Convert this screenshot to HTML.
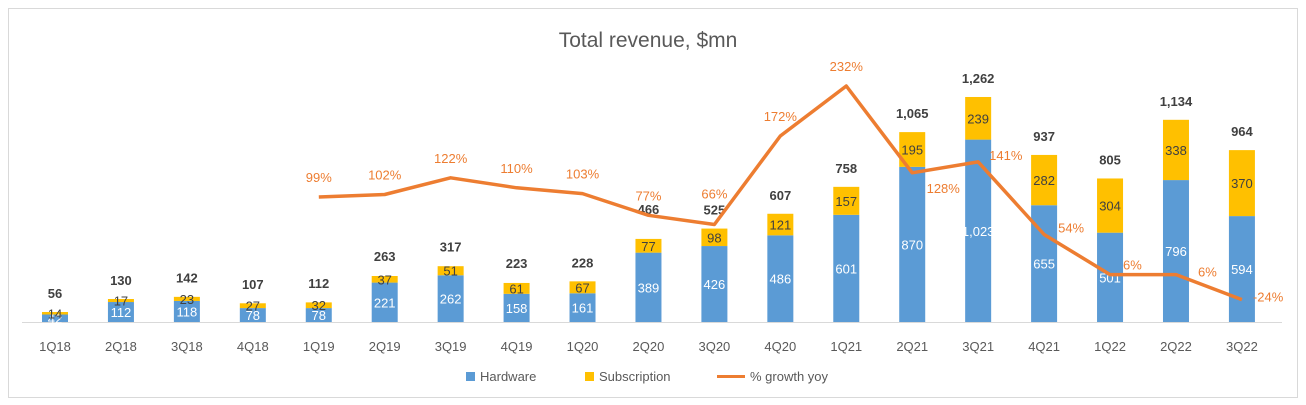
<!DOCTYPE html>
<html><head><meta charset="utf-8"><style>
body{margin:0;background:#fff;}
svg{font-family:"Liberation Sans",Arial,sans-serif;display:block}
</style></head><body>
<svg width="1306" height="405">
<rect x="8.5" y="8.5" width="1289" height="389" fill="#fff" stroke="#d9d9d9"/>
<text x="648" y="47" text-anchor="middle" font-size="21" fill="#595959">Total revenue, $mn</text>
<g id="plot"></g>
<g>
<rect x="466" y="372" width="9" height="9" fill="#5b9bd5"/>
<text x="480" y="381" font-size="13" fill="#595959">Hardware</text>
<rect x="585" y="372" width="9" height="9" fill="#ffc000"/>
<text x="599" y="381" font-size="13" fill="#595959">Subscription</text>
<line x1="717" y1="376.5" x2="745" y2="376.5" stroke="#ed7d31" stroke-width="3"/>
<text x="750" y="381" font-size="13" fill="#595959">% growth yoy</text>
</g>
</svg>
<script>
const categories=["1Q18","2Q18","3Q18","4Q18","1Q19","2Q19","3Q19","4Q19","1Q20","2Q20","3Q20","4Q20","1Q21","2Q21","3Q21","4Q21","1Q22","2Q22","3Q22"];
const hardware=[42,112,118,78,78,221,262,158,161,389,426,486,601,870,1023,655,501,796,594];
const subscription=[14,17,23,27,32,37,51,61,67,77,98,121,157,195,239,282,304,338,370];
const totals=[56,130,142,107,112,263,317,223,228,466,525,607,758,1065,1262,937,805,1134,964];
const growth=[null,null,null,null,99,102,122,110,103,77,66,172,232,128,141,54,6,6,-24];

const NS="http://www.w3.org/2000/svg";
const g=document.getElementById('plot');
const x0=55,step=65.94,base=322,k=0.1783,bw=26;
const xs=i=>x0+i*step;
const ys=v=>base-v*k;
const yg=p=>279.6-p*0.8346;
function mk(t,a,txt){const e=document.createElementNS(NS,t);for(const n in a)e.setAttribute(n,a[n]);if(txt!=null)e.textContent=txt;g.appendChild(e);return e;}
function fmt(v){return v.toLocaleString('en-US');}

const ax=mk('line',{x1:22,x2:1282,y1:base+0.5,y2:base+0.5,stroke:'#d9d9d9'});



categories.forEach((c,i)=>{
  const cx=xs(i);
  const h=hardware[i],s=subscription[i];
  const r1=mk('rect',{x:cx-bw/2,y:ys(h),width:bw,height:h*k,fill:'#5b9bd5'});
  
  
  const r2=mk('rect',{x:cx-bw/2,y:ys(h+s),width:bw,height:s*k,fill:'#ffc000'});
  
  
  const t1=mk('text',{x:cx,y:ys(h/2)+5,'text-anchor':'middle','font-size':13,fill:'#fff'},fmt(h));
  
  
  const t2=mk('text',{x:cx,y:ys(h+s/2)+5,'text-anchor':'middle','font-size':13,fill:'#404040'},fmt(s));
  
  
  const off=(i===9)?25:14;
  const t3=mk('text',{x:cx,y:ys(totals[i])-off,'text-anchor':'middle','font-size':13,'font-weight':'bold',fill:'#404040'},fmt(totals[i]));
  
  
  const t4=mk('text',{x:cx,y:351,'text-anchor':'middle','font-size':13,fill:'#595959'},c);
  
  
});

let d='';
growth.forEach((p,i)=>{if(p==null)return;d+=(d?'L':'M')+xs(i).toFixed(1)+','+yg(p).toFixed(1);});
const ln=mk('path',{d:d,fill:'none',stroke:'#ed7d31','stroke-width':3.5,'stroke-linejoin':'round'});



const rightOff={13:[31,20,'middle'],14:[11,-2,'start'],15:[14,-2,'start'],16:[13,-5,'start'],17:[22,2,'start'],18:[11,2,'start']};
growth.forEach((p,i)=>{
  if(p==null)return;
  let dx=0,dy=-15,anc='middle';
  if(i===10)dy=-26;
  if(rightOff[i]){dx=rightOff[i][0];dy=rightOff[i][1];anc=rightOff[i][2];}
  const t=mk('text',{x:xs(i)+dx,y:yg(p)+dy,'text-anchor':anc,'font-size':13,fill:'#ed7d31'},p+'%');
  
  
});
</script>
</body></html>
